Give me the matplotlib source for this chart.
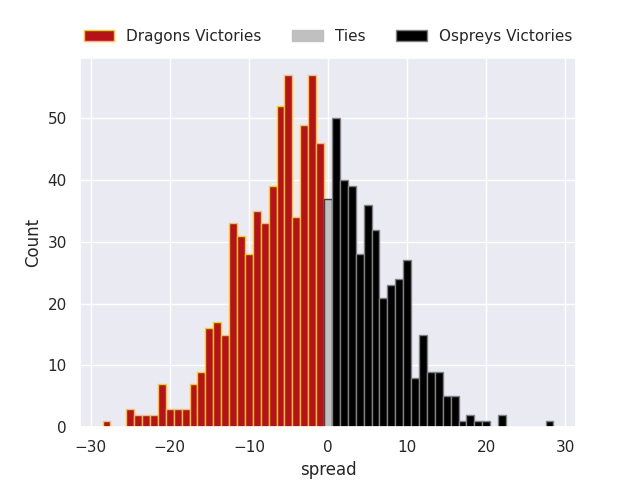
import matplotlib
matplotlib.use("Agg")
import matplotlib.pyplot as plt
import seaborn as sns
import numpy as np

# spread value (integer bins) and counts
dragons_spread = list(range(-28, 0))
dragons_count = [1, 0, 0, 3, 2, 2, 2, 7, 3, 3, 3, 7, 9, 16, 17, 15,
                 33, 31, 28, 35, 33, 39, 52, 57, 34, 49, 57, 46]
ties_spread = [0]
ties_count = [37]
ospreys_spread = list(range(1, 29))
ospreys_count = [50, 40, 39, 28, 36, 32, 21, 23, 24, 27, 8, 15, 9, 9,
                 5, 5, 1, 2, 1, 1, 0, 2, 0, 0, 0, 0, 0, 1]

sns.set_theme(style="darkgrid")

fig, ax = plt.subplots(figsize=(6.4, 4.8), dpi=100)

ax.bar(dragons_spread, dragons_count, width=1.0, color="#b5121b",
       edgecolor="#ffc72c", linewidth=1.0, label="Dragons Victories")
ax.bar(ties_spread, ties_count, width=1.0, color="#c0c0c0",
       edgecolor="#404040", linewidth=1.0, label="Ties")
ax.bar(ospreys_spread, ospreys_count, width=1.0, color="#000000",
       edgecolor="#808080", linewidth=1.0, label="Ospreys Victories")

ax.set_xlabel("spread")
ax.set_ylabel("Count")
ax.set_xticks([-30, -20, -10, 0, 10, 20, 30])
leg = ax.legend(loc="lower center", bbox_to_anchor=(0.5, 1.0), ncol=3,
                frameon=False)
leg.legend_handles[1].set_edgecolor("#c0c0c0")

fig.savefig("out.png", dpi=100)
